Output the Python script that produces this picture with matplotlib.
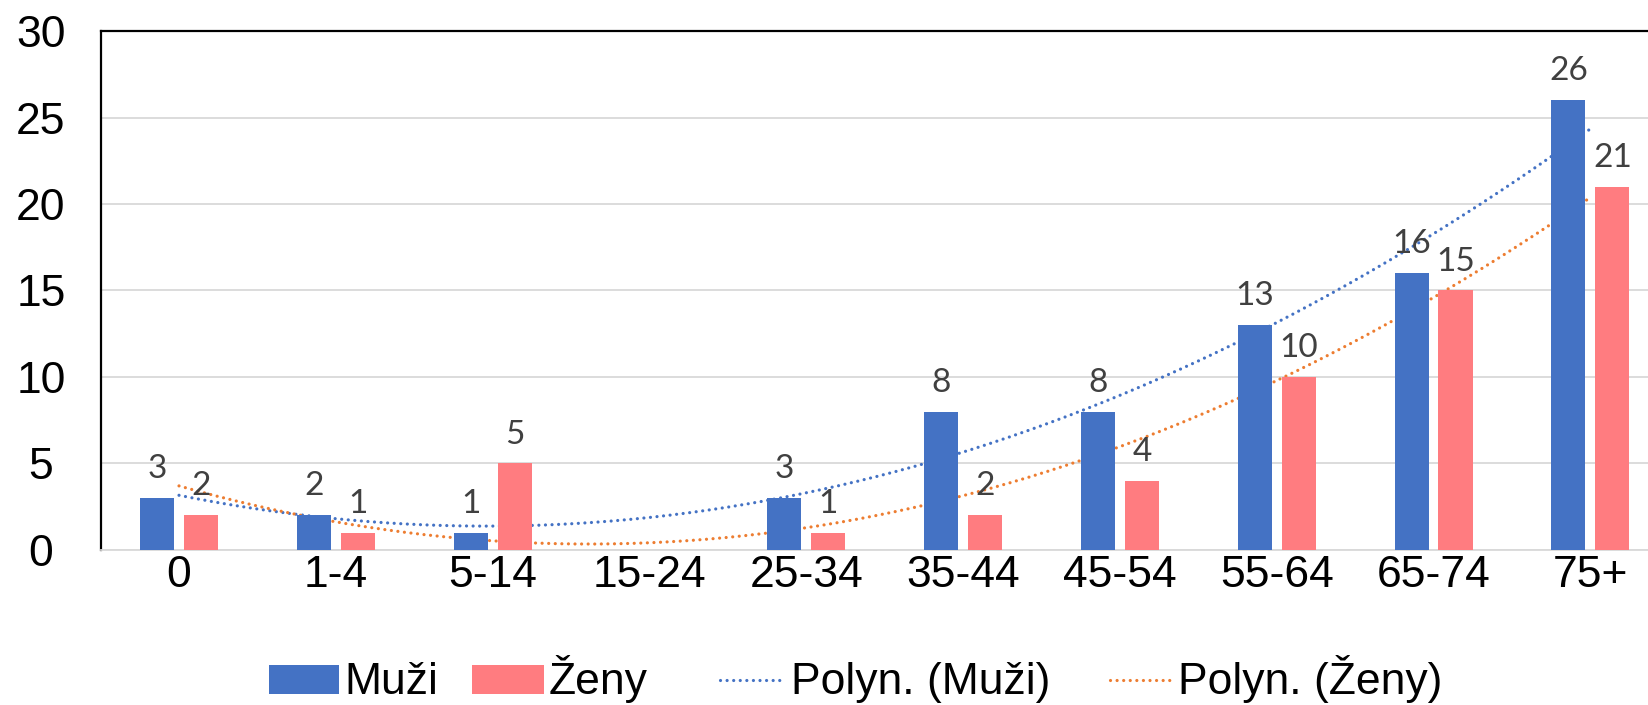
import numpy as np
import matplotlib
matplotlib.use("Agg")
import matplotlib.pyplot as plt
from matplotlib.patches import Rectangle
from matplotlib.lines import Line2D

categories = ["0", "1-4", "5-14", "15-24", "25-34", "35-44", "45-54", "55-64", "65-74", "75+"]
muzi = [3, 2, 1, None, 3, 8, 8, 13, 16, 26]
zeny = [2, 1, 5, None, 1, 2, 4, 10, 15, 21]
y_ticks = [0, 5, 10, 15, 20, 25, 30]

blue = "#4472C4"
pink = "#FF7C80"
orange = "#ED7D31"
grid_c = "#D9D9D9"
label_c = "#404040"

W, H = 1649, 705
fig = plt.figure(figsize=(W / 100, H / 100), dpi=100)
ax = fig.add_axes([0.061, 0.220, 0.951, 0.736])

x = np.arange(len(categories))
bw = 0.217
off = 0.14


def trend(vals):
    xs = np.array([i for i, v in enumerate(vals) if v is not None], float)
    ys = np.array([v for v in vals if v is not None], float)
    coef = np.polyfit(xs, ys, 2)
    xx = np.linspace(0, len(vals) - 1, 300)
    return xx, np.polyval(coef, xx)


dot = (0, (0.01, 2.05))
tlw = 2.3
for vals, col in ((muzi, blue), (zeny, orange)):
    xx, yy = trend(vals)
    ax.plot(xx, yy, color=col, lw=tlw, linestyle=dot, dash_capstyle="round", zorder=2)

for vals, col, sgn in ((muzi, blue, -1), (zeny, pink, 1)):
    xs = [i for i, v in enumerate(vals) if v is not None]
    ys = [v for v in vals if v is not None]
    bars = ax.bar(np.array(xs) + sgn * off, ys, width=bw, color=col, zorder=3)
    for b, v in zip(bars, ys):
        ax.annotate(str(v), (b.get_x() + b.get_width() / 2, v), xytext=(0, 10),
                    textcoords="offset points", ha="center", va="bottom",
                    fontsize=24, color=label_c, family="Lato", zorder=4)

ax.set_xlim(-0.5, len(categories) - 0.5)
ax.set_ylim(0, 30)
ax.set_yticks(y_ticks)
ax.set_xticks(x)
ax.set_xticklabels(categories)
ax.tick_params(axis="both", length=0, labelsize=32)
ax.tick_params(axis="x", pad=4)
ax.tick_params(axis="y", pad=43)
for lab in ax.get_yticklabels():
    lab.set_horizontalalignment("center")
for lab in ax.get_xticklabels() + ax.get_yticklabels():
    lab.set_family("Liberation Sans")

ax.yaxis.grid(True, color=grid_c, lw=1.3, zorder=0)
ax.set_axisbelow(True)
for s in ("left", "top", "right"):
    ax.spines[s].set_color("black")
    ax.spines[s].set_linewidth(1.6)
ax.spines["bottom"].set_color(grid_c)
ax.spines["bottom"].set_linewidth(1.3)

# legend row along the bottom, laid out in figure pixels
base = 1 - 694 / H
top = 1 - 665 / H
mid = 1 - 680 / H
legend_font = {"family": "Liberation Sans", "size": 32}
for x0, x1, col, txt, tx in ((269, 339, blue, "Muži", 344), (472, 544, pink, "Ženy", 549)):
    fig.add_artist(Rectangle((x0 / W, base), (x1 - x0) / W, top - base,
                             transform=fig.transFigure, facecolor=col, edgecolor="none"))
    fig.text(tx / W, base, txt, va="baseline", ha="left", **legend_font)
for x0, x1, col, txt, tx in ((720, 783, blue, "Polyn. (Muži)", 791),
                             (1110, 1173, orange, "Polyn. (Ženy)", 1178)):
    fig.add_artist(Line2D([x0 / W, x1 / W], [mid, mid], transform=fig.transFigure,
                          color=col, lw=tlw, linestyle=dot, dash_capstyle="round"))
    fig.text(tx / W, base, txt, va="baseline", ha="left", **legend_font)

fig.savefig("out.png", dpi=100)
